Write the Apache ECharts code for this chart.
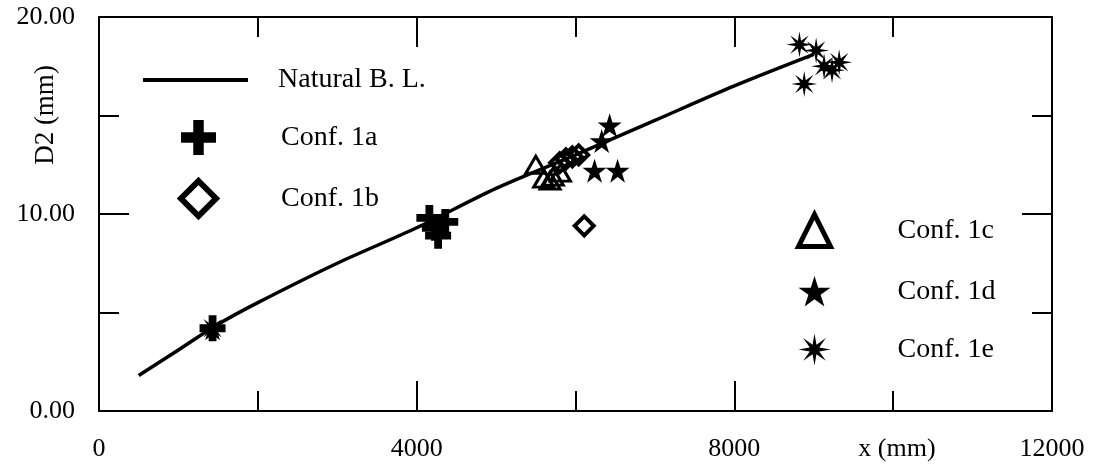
<!DOCTYPE html>
<html>
<head>
<meta charset="utf-8">
<script src="https://cdn.jsdelivr.net/npm/echarts@6/dist/echarts.min.js"></script>
<style>
  html, body { margin: 0; padding: 0; background: #fff; }
  #chart { width: 1097px; height: 470px; }
</style>
</head>
<body>
<div id="chart"></div>
<script>
// natural boundary layer curve (x in mm, D2 in mm)
const curveX = [500, 1000, 1500, 2000, 3000, 4000, 5000, 6000, 7000, 8000, 9000];
const curveY = [1.8, 3.1, 4.4, 5.5, 7.5, 9.3, 11.3, 13.0, 14.75, 16.5, 18.1];

const conf1a = [[1430, 4.2], [4160, 9.8], [4270, 8.9], [4360, 9.6], [4230, 9.3]];
const conf1b = [[5800, 12.6], [5880, 12.8], [5960, 12.9], [6040, 13.0], [6110, 9.4]];
const conf1c = [[5500, 12.5], [5600, 11.8], [5680, 11.7], [5720, 11.9], [5810, 12.1]];
const conf1d = [[1430, 4.2], [6430, 14.5], [6330, 13.7], [6240, 12.2], [6530, 12.2]];
const conf1e = [[1430, 4.2], [8820, 18.6], [9030, 18.3], [9130, 17.5], [9230, 17.3], [9320, 17.7], [8880, 16.6]];

const xTicks = [0, 4000, 8000, 12000];
const yTicks = [0, 10, 20];

const FONT = 'Liberation Serif';
const PLUS = 'path://M35 0H65V35H100V65H65V100H35V65H0V35H35Z';
const STAR = 'path://M50 0L61.17 34.63L97.55 34.55L68.07 55.87L79.39 90.45L50 69L20.61 90.45L31.93 55.87L2.45 34.55L38.83 34.63Z';
const ASTER = 'path://M50 0L56.12 35.22L85.36 14.64L64.78 43.88L100 50L64.78 56.12L85.36 85.36L56.12 64.78L50 100L43.88 64.78L14.64 85.36L35.22 56.12L0 50L35.22 43.88L14.64 14.64L43.88 35.22Z';
const HOLLOW = 'rgba(0,0,0,0)';

const chart = echarts.init(document.getElementById('chart'));

const axisCommon = {
  type: 'value',
  axisLine: { show: true, onZero: false, lineStyle: { color: '#000', width: 2 } },
  axisTick: { show: true, inside: true, length: 30, lineStyle: { color: '#000', width: 2 } },
  minorTick: { show: true, splitNumber: 2, length: 20, lineStyle: { color: '#000', width: 2 } },
  splitLine: { show: false },
  minorSplitLine: { show: false }
};

const legendText = { fontFamily: FONT, fontSize: 28, color: '#000' };

chart.setOption({
  animation: false,
  backgroundColor: '#fff',
  grid: { left: 99, right: 45, top: 17, bottom: 59 },
  xAxis: [
    Object.assign({}, axisCommon, {
      position: 'bottom', min: 0, max: 12000, interval: 4000,
      axisLabel: {
        fontFamily: FONT, fontSize: 26, color: '#000', margin: 25,
        formatter: v => xTicks.indexOf(v) >= 0 ? String(v) : ''
      }
    }),
    Object.assign({}, axisCommon, {
      position: 'top', min: 0, max: 12000, interval: 4000,
      axisLabel: { show: false }
    })
  ],
  yAxis: [
    Object.assign({}, axisCommon, {
      position: 'left', min: 0, max: 20, interval: 10,
      axisLabel: {
        fontFamily: FONT, fontSize: 26, color: '#000', margin: 24,
        formatter: v => yTicks.indexOf(v) >= 0 ? v.toFixed(2) : ''
      }
    }),
    Object.assign({}, axisCommon, {
      position: 'right', min: 0, max: 20, interval: 10,
      axisLabel: { show: false }
    })
  ],
  legend: [
    {
      data: [{ name: 'Natural B. L.', icon: 'rect' }],
      left: 143, top: 66, orient: 'vertical', padding: 0,
      itemWidth: 105, itemHeight: 4,
      textStyle: Object.assign({ padding: [0, 0, 0, 25] }, legendText),
      selectedMode: false
    },
    {
      data: [
        { name: 'Conf. 1a' },
        { name: 'Conf. 1b', itemStyle: { color: HOLLOW, borderColor: '#000', borderWidth: 6 } }
      ],
      left: 178, top: 120, orient: 'vertical', padding: 0,
      itemWidth: 35, itemHeight: 35, itemGap: 23,
      textStyle: Object.assign({ padding: [0, 0, 0, 60] }, legendText),
      selectedMode: false
    },
    {
      data: [
        { name: 'Conf. 1c', itemStyle: { color: HOLLOW, borderColor: '#000', borderWidth: 5 } },
        { name: 'Conf. 1d' },
        { name: 'Conf. 1e' }
      ],
      left: 796, top: 212, orient: 'vertical', padding: 0,
      itemWidth: 32, itemHeight: 32, itemGap: 27,
      textStyle: Object.assign({ padding: [0, 0, 0, 62] }, legendText),
      selectedMode: false
    }
  ],
  graphic: [
    {
      type: 'text', x: 897, y: 449,
      style: { text: 'x (mm)', fontFamily: FONT, fontSize: 26, fill: '#000', align: 'center', verticalAlign: 'middle' }
    },
    {
      type: 'text', x: 46, y: 115, rotation: Math.PI / 2,
      style: { text: 'D2 (mm)', fontFamily: FONT, fontSize: 27, fill: '#000', align: 'center', verticalAlign: 'middle' }
    }
  ],
  series: [
    {
      name: 'Natural B. L.', type: 'line', smooth: 0.3, symbol: 'none',
      data: curveX.map((x, i) => [x, curveY[i]]),
      lineStyle: { color: '#000', width: 3.5 }, itemStyle: { color: '#000' }, z: 1
    },
    {
      name: 'Conf. 1a', type: 'scatter', symbol: PLUS, symbolSize: 26,
      data: conf1a, itemStyle: { color: '#000', opacity: 1 }, z: 3
    },
    {
      name: 'Conf. 1b', type: 'scatter', symbol: 'diamond', symbolSize: 19,
      data: conf1b, itemStyle: { color: HOLLOW, borderColor: '#000', borderWidth: 4, opacity: 1 }, z: 3
    },
    {
      name: 'Conf. 1c', type: 'scatter', symbol: 'triangle', symbolSize: [20, 17],
      data: conf1c, itemStyle: { color: HOLLOW, borderColor: '#000', borderWidth: 3, opacity: 1 }, z: 3
    },
    {
      name: 'Conf. 1d', type: 'scatter', symbol: STAR, symbolSize: 24,
      data: conf1d, itemStyle: { color: '#000', opacity: 1 }, z: 3
    },
    {
      name: 'Conf. 1e', type: 'scatter', symbol: ASTER, symbolSize: 26,
      data: conf1e, itemStyle: { color: '#000', opacity: 1 }, z: 3
    }
  ]
});
</script>
</body>
</html>
